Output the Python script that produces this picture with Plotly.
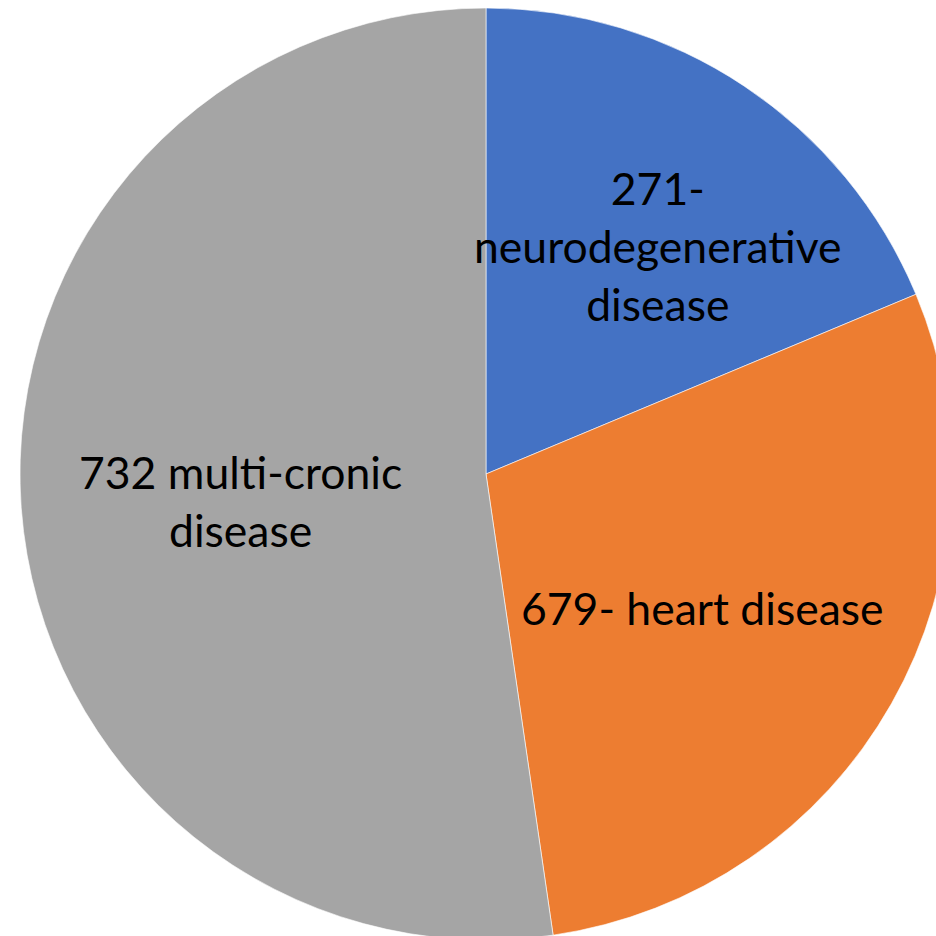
import plotly.graph_objects as go

# Data
categories = ["neurodegenerative disease", "heart disease", "multi-cronic disease"]
slice_share = [18.7, 29.0, 52.3]          # share of circle (%) as drawn
label_texts = ["271-<br>neurodegenerative<br>disease",
               "679- heart disease",
               "732 multi-cronic<br>disease"]
colors = ["#4472C4", "#ED7D31", "#A5A5A5"]

# Layout geometry (pixels)
L, T, D = 20, 8, 932
W, H = L + D, T + D
label_px = [(658, 246), (702, 607), (240, 500)]

fig = go.Figure(go.Pie(
    labels=categories,
    values=slice_share,
    sort=False,
    direction="clockwise",
    rotation=0,
    textinfo="none",
    marker=dict(colors=colors, line=dict(color="white", width=0.6)),
    showlegend=False,
    domain=dict(x=[0, 1], y=[0, 1]),
))

for txt, (px, py) in zip(label_texts, label_px):
    fig.add_annotation(
        x=(px - L) / D, y=1 - (py - T) / D,
        xref="paper", yref="paper",
        text=txt, showarrow=False,
        xanchor="center", yanchor="middle",
        font=dict(family="Lato", size=44.5, color="black"),
    )

fig.update_layout(
    width=W, height=H,
    margin=dict(l=L, r=0, t=T, b=0, pad=0),
    paper_bgcolor="white", plot_bgcolor="white",
)

fig.write_html(
    "out.html",
    config={"displayModeBar": False},
    post_script="document.body.style.margin='0';document.body.style.overflow='hidden';document.documentElement.style.overflow='hidden';",
)
